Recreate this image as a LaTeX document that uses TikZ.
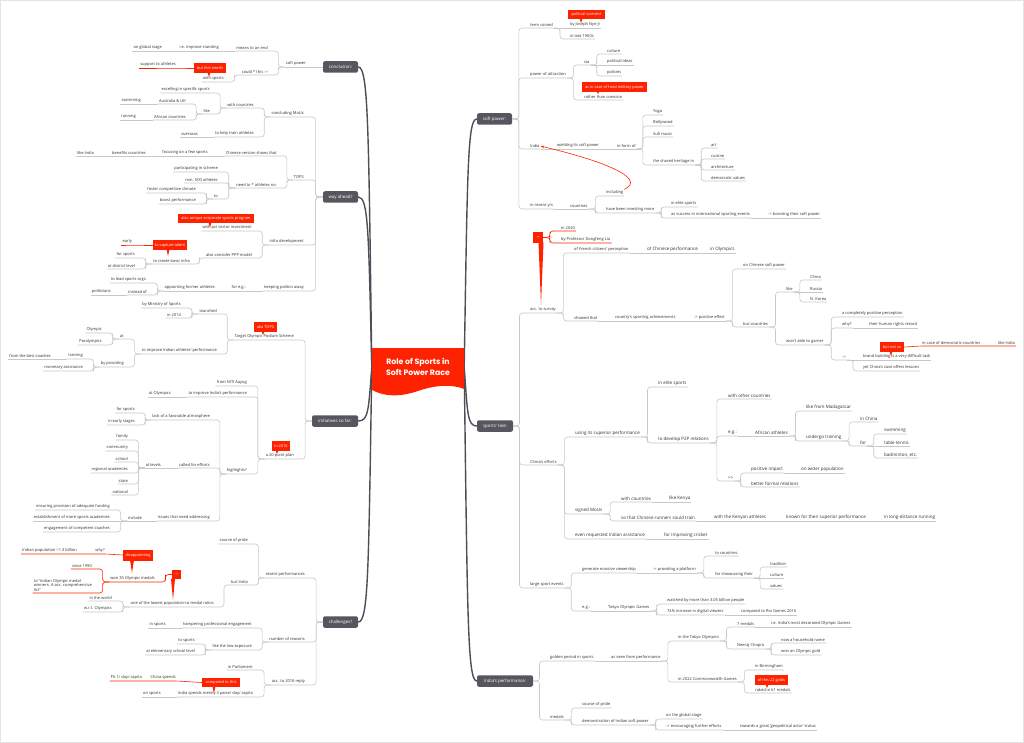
\documentclass[tikz,border=0pt]{standalone}
\usepackage{fontspec}
\setmainfont{Open Sans}
\newfontfamily\titlefont{Poppins}
\newfontfamily\rupfont{Noto Sans}
\usetikzlibrary{calc,arrows.meta}
\definecolor{cred}{HTML}{FF2200}
\definecolor{cbox}{HTML}{56565E}
\definecolor{cline}{HTML}{C8C8C8}
\definecolor{ctxt}{HTML}{303030}
\definecolor{ctrunk}{HTML}{4E4E56}
\definecolor{cframe}{HTML}{E4E4E4}
\pgfdeclarelayer{bg}
\pgfdeclarelayer{trk}
\pgfsetlayers{bg,trk,main}
\tikzset{
 tx/.style={font=\fontsize{4}{4.8}\selectfont, text=ctxt, inner xsep=1pt, inner ysep=1.1pt},
 big/.style={font=\fontsize{4.5}{5.4}\selectfont},
 conn/.style={draw=cline, line width=0.6pt, rounded corners=3pt},
 rconn/.style={draw=cred, line width=0.6pt, rounded corners=3pt},
 bbox/.style={fill=cbox, rounded corners=2pt, text=white, font=\fontsize{4.4}{5}\selectfont, minimum height=11.5pt, inner xsep=2pt, inner ysep=0pt},
 call/.style={fill=cred, text=white, font=\fontsize{3.9}{4.6}\selectfont, minimum height=9.5pt, inner xsep=1.5pt, inner ysep=0pt},
 trunk/.style={draw=ctrunk, line width=1.4pt, line cap=round},
}
\newcommand\mR[4][]{\node[tx,anchor=south west,#1] (#2) at (#3) {#4};}
\newcommand\mL[4][]{\node[tx,anchor=south east,#1] (#2) at (#3) {#4};}
\newcommand\kR[2]{\draw[conn] (#1.south east) -| ($(#1.south east)!.4!(#2.south west)$) |- (#2.south east);}
\newcommand\kL[2]{\draw[conn] (#1.south west) -| ($(#1.south west)!.4!(#2.south east)$) |- (#2.south west);}
\newcommand\kBR[2]{\draw[conn] (#1.east) -| ($(#1.east)!.4!(#2.south west)$) |- (#2.south east);}
\newcommand\kBL[2]{\draw[conn] (#1.west) -| ($(#1.west)!.4!(#2.south east)$) |- (#2.south west);}
\newcommand\kH[2]{\draw[conn] (#1.south east) -- (#2.south east);}
\newcommand\kHL[2]{\draw[conn] (#1.south west) -- (#2.south west);}
\newcommand\rBR[2]{\draw[rconn] (#1.east) -| ($(#1.east)!.4!(#2.south west)$) |- (#2.south east);}
\newcommand\rBL[2]{\draw[rconn] (#1.west) -| ($(#1.west)!.4!(#2.south east)$) |- (#2.south west);}
\newcommand\rKL[2]{\draw[rconn] (#1.south west) -| ($(#1.south west)!.4!(#2.south east)$) |- (#2.south west);}
\newcommand\ptr[4]{\coordinate (#1t) at (#2,#3);\fill[cred] ($(#1t |- #1.south)+(-#4,-0.8)$) -- ($(#1t |- #1.south)+(#4,-0.8)$) -- (#1t) -- cycle;}
\newcommand\trL[2]{\draw[trunk] (title.west) .. controls (368.5,{#2+0.2*(367-#2)}) and (368.5,#2) .. (#1.east);}
\newcommand\trR[2]{\draw[trunk] (title.east) .. controls (467.5,{#2+0.2*(367-#2)}) and (467.5,#2) .. (#1.west);}
\begin{document}
\begin{tikzpicture}[x=1pt,y=-1pt]
\useasboundingbox (0,0) rectangle (1024,743);
\begin{pgfonlayer}{bg}
\fill[white] (0,0) rectangle (1024,743);
\end{pgfonlayer}
\draw[cframe,line width=1.2pt] (0.6,0.6) rectangle (1023.4,742.4);

% ---------- title ----------
\node[minimum width=92pt,minimum height=40pt,inner sep=0pt,text=white,font=\titlefont\bfseries\fontsize{7.8}{10.2}\selectfont,align=center] (title) at (418,367) {Role of Sports in\\Soft Power Race};

% ---------- main branch boxes ----------
\node[bbox,minimum width=35pt] (sp) at (494.5,119) {soft power:};
\node[bbox,minimum width=36pt] (sr) at (495,426) {sports' role:};
\node[bbox,minimum width=56pt] (ip) at (505,681) {India's performance:};
\node[bbox,minimum width=35pt] (cc) at (340.5,67) {conclusion:};
\node[bbox,minimum width=35pt] (wa) at (340.5,197) {way ahead?};
\node[bbox,minimum width=46pt] (ini) at (335,421) {initiatives so far:};
\node[bbox,minimum width=35pt] (ch) at (340.5,622) {challenges?};

\begin{pgfonlayer}{trk}
\trL{cc}{67}\trL{wa}{197}\trL{ini}{421}\trL{ch}{622}
\trR{sp}{119}\trR{sr}{426}\trR{ip}{681}
\fill[cred] (372,348) -- (464,348) -- (464,389) .. controls (452,384) and (435,385) .. (418,391) .. controls (400,397) and (385,397) .. (372,390) -- cycle;
\end{pgfonlayer}

% ---------- soft power ----------
\mR{sp1}{529,28}{term coined}
\mR{sp2}{529,78}{power of attraction}
\mR{sp3}{529,149}{India}
\mR{sp4}{529,209}{in recent yrs}
\mR{sp1a}{569,28}{by Joseph Nye Jr}
\mR{sp1b}{569,39}{in late 1960s}
\mR{via}{583,65}{via}
\mR{rtc}{583,100}{rather than coercion}
\mR{cul}{606,54}{culture}
\mR{poi}{606,65}{political ideas}
\mR{pol}{606,76}{policies}
\mR{wsp}{556,149}{wielding its soft power}
\mR{ifo}{616,149}{in form of}
\mR{yoga}{652,115}{Yoga}
\mR{bol}{652,126}{Bollywood}
\mR{suf}{652,137}{Sufi music}
\mR{her}{652,165}{the shared heritage in}
\mR{art}{710,148}{art}
\mR{cui}{710,159}{cuisine}
\mR{arc}{710,170}{architecture}
\mR{dem1}{710,181}{democratic values}
\mR{cou1}{569,209}{countries}
\mR{inc}{605,196}{including}
\mR{hbim}{605,213}{have been investing more}
\mR{ies1}{670,207}{in elite sports}
\mR{suc}{670,218}{as success in international sporting events}
\mR{bst}{767,218}{-> boosting their soft power}
\node[call,minimum width=37pt,minimum height=9pt] (ps) at (586.5,14.5) {political scientist};
\ptr{ps}{581}{23}{1.5}
\node[call,minimum width=65pt,minimum height=10pt] (hm) at (614.5,87) {as in case of hard military power};
\ptr{hm}{598}{94}{1.5}

% ---------- sports' role ----------
\mR{sr1}{529,313}{acc. to survey}
\mR{sr2}{529,465}{China's efforts}
\mR{sr3}{529,588}{large sport events}
\mR{fr}{573,253}{of French citizens' perception}
\mR{st}{573,321}{showed that}
\mR[big]{chp}{646,253}{of Chinese performance}
\mR[big]{inol}{709,253}{in Olympics}
\mR{csa}{614,321}{country's sporting achievements}
\mR{pe}{693,321}{-> positive effect}
\mR{ocs}{742,269}{on Chinese soft power}
\mR{bc}{742,327}{but countries}
\mR{lk2}{785,292}{like}
\mR{wag}{785,345}{won't able to garner}
\mR{chn}{809,280}{China}
\mR{rus}{809,292}{Russia}
\mR{nk}{809,302}{N. Korea}
\mR{acpp}{841,317}{a completely positive perception}
\mR{why2}{841,328}{why?}
\mR{hrr}{868,328}{their human rights record}
\mR{arr1}{841,360}{->}
\mR{bb}{862,360}{brand building is a very difficult task}
\mR{yc}{862,371}{yet China's case offers lessons}
\node[call,minimum width=24pt,minimum height=10pt] (bns) at (892,347) {but not so};
\ptr{bns}{891}{356}{1.5}
\mR{icdc}{921,346}{in case of democratic countries}
\mR{lind}{997,346}{like India}
\node[call,minimum width=10pt,minimum height=11pt] (cs) at (538,237.5) {->};
\ptr{cs}{541}{305}{2.5}
\mR{y20}{560,231}{in 2020}
\mR{prof}{560,243}{by Professor Dongfeng Liu}

\mR[big]{usp}{574,437}{using its superior performance}
\mR[big]{mou}{574,514}{signed MoUs}
\mR[big]{eri}{574,539}{even requested Indian assistance}
\mR[big]{fic}{663,539}{for improving cricket}
\mR[big]{ies2}{657,387}{in elite sports}
\mR[big]{p2p}{657,443}{to develop P2P relations}
\mR[big]{woc}{727,399}{with other countries}
\mR[big]{eg1}{727,436}{e.g.:}
\mR[big]{imp}{727,481}{=>}
\mR[big]{aa}{754,436}{African athletes}
\mR[big]{lfm}{805,411}{like from Madagascar}
\mR[big]{ut}{805,441}{undergo training}
\mR[big]{inch}{859,422}{in China}
\mR[big]{forn}{859,446}{for}
\mR[big]{swm2}{883,434}{swimming}
\mR[big]{tt}{883,446}{table tennis}
\mR[big]{bad}{883,458}{badminton, etc.}
\mR[big]{pi}{750,473}{positive impact}
\mR[big]{owp}{800,473}{on wider population}
\mR[big]{bfr}{750,487}{better formal relations}
\mR[big]{wc2}{620,502}{with countries}
\mR[big]{lk3}{668,502}{like Kenya}
\mR[big]{sot}{620,521}{so that Chinese runners could train}
\mR[big]{wka}{713,521}{with the Kenyan athletes}
\mR[big]{kf}{785,521}{known for their superior performance}
\mR[big]{ldr}{883,521}{in long-distance running}

\mR{gmv}{581,573}{generate massive viewership}
\mR{eg2}{581,611}{e.g.:}
\mR{ppl}{652,573}{-> providing a platform}
\mR{tcn}{714,556}{to countries}
\mR{fst}{714,578}{for showcasing their}
\mR{trad}{769,567}{tradition}
\mR{cult2}{769,578}{culture}
\mR{val}{769,589}{values}
\mR{tog}{607,611}{Tokyo Olympic Games}
\mR{wat}{666,604}{watched by more than 3.05 billion people}
\mR{i74}{666,615}{74\% increase in digital viewers}
\mR{rio}{740,615}{compared to Rio Games 2016}

% ---------- India's performance ----------
\mR{gp}{549,661}{golden period in sports}
\mR{med}{549,720}{medals}
\mR{asp}{610,661}{as seen from performance}
\mR{tok}{677,641}{in the Tokyo Olympics}
\mR{cwg}{677,682}{in 2022 Commonwealth Games}
\mR{m7}{736,627}{7 medals}
\mR{dec}{770,627}{i.e. India's most decorated Olympic Games}
\mR{nc}{736,649}{Neeraj Chopra}
\mR{hh}{780,643}{now a household name}
\mR{gold}{780,655}{won an Olympic gold}
\mR{bir}{754,670}{in Birmingham}
\mR{rak}{754,693}{raked in 61 medals}
\node[call,minimum width=33pt,minimum height=10pt] (g22) at (771.5,680) {of this 22 golds};
\ptr{g22}{767}{688}{1.5}
\mR{sop}{581,708}{source of pride}
\mR{dsp}{581,725}{demonstration of Indian soft power}
\mR{gs}{665,719}{on the global stage}
\mR{enc}{665,730}{-> encouraging further efforts}
\mR{geo}{739,730}{towards a great `geopolitical actor' status}

% ---------- conclusion ----------
\mL{cc1}{307,67}{soft power}
\mL{mte}{269,51}{means to an end}
\mL{cou}{269,75}{could * this ->}
\mL{ims}{220,51}{i.e. improve standing}
\mL{ogs}{163,51}{on global stage}
\mL{ws}{225,82}{with sports}
\node[call,minimum width=32pt,minimum height=10pt] (bn) at (210,68) {but this needs};
\ptr{bn}{209}{77}{1.5}
\mL{sta}{177,68}{support to athletes}

% ---------- way ahead ----------
\mL{cm}{305,117}{concluding MoUs}
\mL{tops}{305,180}{TOPS}
\mL{inf}{305,245}{infra development}
\mL{kpa}{305,291}{keeping politics away}
\mL{wc1}{255,108}{with countries}
\mL{tht}{255,137}{to help train athletes}
\mL{ovs}{199,137}{overseas}
\mL{eis}{211,93}{excelling in specific sports}
\mL{lk1}{211,114}{like}
\mL{auk}{187,104}{Australia \& UK}
\mL{swm}{142,104}{swimming}
\mL{afc}{187,120}{African countries}
\mL{run}{137,120}{running}
\mL{cvs}{278,156}{Chinese version shows that}
\mL{fafs}{209,156}{focusing on a few sports}
\mL{bcn}{147,156}{benefits countries}
\mL{lind2}{95,156}{like India}
\mL{need}{278,188}{need to * athletes no.}
\mL{pis}{219,172}{participating in scheme}
\mL{m500}{219,183}{min. 500 athletes}
\mL{to1}{219,199}{to}
\mL{fcc}{197,193}{foster competitive climate}
\mL{boo}{197,204}{boost performance}
\mL{pvt}{253,231}{with pvt sector investment}
\mL{ppp}{253,258}{also consider PPP model}
\node[call,minimum width=76pt,minimum height=9.5pt] (auc) at (216,218.5) {also unique corporate sports program};
\ptr{auc}{210}{227}{1.5}
\mL{tcbi}{191,264}{to create basic infra}
\mL{fsp}{136,258}{for sports}
\mL{adl}{136,269}{at district level}
\node[call,minimum width=32pt,minimum height=10pt] (ct) at (170,245) {to capture talent};
\ptr{ct}{168}{256}{1.5}
\mL{early}{133,245}{early}
\mL{feg}{247,291}{for e.g.:}
\mL{afa}{216,291}{appointing former athletes}
\mL{tlso}{148,283}{to lead sports orgs.}
\mL{io}{148,295}{instead of}
\mL{pol2}{112,295}{politicians}

% ---------- initiatives so far ----------
\mL{tops2}{295,340}{Target Olympic Podium Scheme}
\mL{p20}{295,459}{a 20-point plan}
\node[call,minimum width=23pt,minimum height=10pt] (aka) at (265.5,327) {aka TOPS};
\ptr{aka}{263}{335}{1.5}
\node[call,minimum width=18pt,minimum height=10pt] (i16) at (281,446) {in 2016};
\ptr{i16}{277}{454}{1.5}
\mL{lau}{218,314}{launched}
\mL{tiiap}{218,354}{to improve Indian athletes' performance}
\mL{bms}{182,308}{by Ministry of Sports}
\mL{i14}{182,318}{in 2014}
\mL{at1}{125,339}{at}
\mL{bpr}{125,367}{by providing}
\mL{oly}{103,333}{Olympic}
\mL{para}{103,345}{Paralympics}
\mL{trn}{84,359}{training}
\mL{fbc}{52,359}{from the best coaches}
\mL{mon}{84,371}{monetary assistance}
\mL{niti}{248,386}{from NITI Aayog}
\mL{tiip}{248,397}{to improve India's performance}
\mL{ato}{172,397}{at Olympics}
\mL{hl}{248,474}{highlights?}
\mL{lack}{211,420}{lack of a favorable atmosphere}
\mL{cfe}{211,468}{called for efforts}
\mL{iss}{211,521}{issues that need addressing}
\mL{fs2}{136,413}{for sports}
\mL{ies3}{136,425}{in early stages}
\mL{atl}{162,468}{at levels}
\mL{fam}{129,440}{family}
\mL{com}{129,451}{community}
\mL{sch}{129,462}{school}
\mL{reg}{129,473}{regional academies}
\mL{sta2}{129,484}{state}
\mL{nat}{129,495}{national}
\mL{incl}{143,521}{include}
\mL{epf}{111,510}{ensuring provision of adequate funding}
\mL{emsa}{111,521}{establishment of more sports academies}
\mL{ecc}{111,532}{engagement of competent coaches}

% ---------- challenges ----------
\mL{rp}{306,578}{recent performances}
\mL{nr}{306,642}{number of reasons}
\mL{a18}{306,685}{acc. to 2018 reply}
\mL{sop2}{249,544}{source of pride}
\mL{bi}{249,585}{but India}
\mL{olp}{215,607}{one of the lowest population-to-medal ratios}
\mL{itw}{113,601}{in the world}
\mL{wrt}{113,612}{w.r.t. Olympics}
\node[call,minimum width=9pt,minimum height=9.5pt] (arr2) at (176.5,574.5) {->};
\ptr{arr2}{173}{600}{2}
\mL{w35}{156,582}{won 35 Olympic medals}
\mL{s90}{93,569}{since 1990}
\mL[align=left]{ind}{93,593}{to ``Indian Olympic medal\\winners: A acc. comprehensive\\list''}
\node[call,minimum width=30pt,minimum height=11pt] (dis) at (138,555) {disappointing};
\ptr{dis}{132}{573}{2}
\mL{why1}{106,554}{why?}
\mL{ipop}{78,554}{Indian population >1.3 billion}
\mL{hpe}{253,628}{hampering professional engagement}
\mL{isp}{167,628}{in sports}
\mL{lle}{253,650}{like the low exposure}
\mL{tsp}{196,644}{to sports}
\mL{aesl}{196,655}{at elementary school level}
\mL{ipar}{254,670}{in Parliament}
\mL{ism}{254,697}{India spends merely 3 paise/ day/ capita}
\mL{osp}{162,697}{on sports}
\node[call,minimum width=38pt,minimum height=9.5pt] (cmp) at (221,682.5) {compared to this};
\ptr{cmp}{214}{693}{1.5}
\mL{csp}{177,681}{China spends}
\mL{r61}{143,681}{{\rupfont ₹}6.1/ day/ capita}

% ---------- connectors right ----------
\kBR{sp}{sp1}\kBR{sp}{sp2}\kBR{sp}{sp3}\kBR{sp}{sp4}
\kH{sp1}{sp1a}\kR{sp1}{sp1b}
\kR{sp2}{via}\kR{sp2}{rtc}
\kR{via}{cul}\kH{via}{poi}\kR{via}{pol}
\kH{sp3}{wsp}\kH{wsp}{ifo}
\kR{ifo}{yoga}\kR{ifo}{bol}\kR{ifo}{suf}\kR{ifo}{her}
\kR{her}{art}\kR{her}{cui}\kR{her}{arc}\kR{her}{dem1}
\kH{sp4}{cou1}\kR{cou1}{inc}\kR{cou1}{hbim}
\kR{hbim}{ies1}\kR{hbim}{suc}\kH{suc}{bst}
\draw[cred,line width=0.6pt,-{Stealth[length=3.5pt,width=2.6pt]}] (inc.north east) .. controls (648,178) and (600,160) .. (sp3.east);

\kBR{sr}{sr1}\kBR{sr}{sr2}\kBR{sr}{sr3}
\kR{sr1}{fr}\kR{sr1}{st}
\kH{fr}{chp}\kH{chp}{inol}
\kH{st}{csa}\kH{csa}{pe}
\kR{pe}{ocs}\kR{pe}{bc}
\kR{bc}{lk2}\kR{bc}{wag}
\kR{lk2}{chn}\kH{lk2}{rus}\kR{lk2}{nk}
\kR{wag}{acpp}\kR{wag}{why2}\kR{wag}{arr1}
\kH{why2}{hrr}
\kH{arr1}{bb}\kR{arr1}{yc}
\draw[rconn] (bns.east) -- (icdc.south west) -- (icdc.south east) -- (lind.south east);
\rBR{cs}{y20}\rBR{cs}{prof}
\kR{sr2}{usp}\kR{sr2}{mou}\kR{sr2}{eri}\kH{eri}{fic}
\kR{usp}{ies2}\kR{usp}{p2p}
\kR{p2p}{woc}\kR{p2p}{eg1}\kR{p2p}{imp}
\kH{eg1}{aa}
\kR{aa}{lfm}\kR{aa}{ut}
\kR{ut}{inch}\kR{ut}{forn}
\kR{forn}{swm2}\kH{forn}{tt}\kR{forn}{bad}
\kR{imp}{pi}\kR{imp}{bfr}\kH{pi}{owp}
\kR{mou}{wc2}\kR{mou}{sot}\kH{wc2}{lk3}\kH{sot}{wka}\kH{wka}{kf}\kH{kf}{ldr}
\kR{sr3}{gmv}\kR{sr3}{eg2}\kH{gmv}{ppl}
\kR{ppl}{tcn}\kR{ppl}{fst}
\kR{fst}{trad}\kH{fst}{cult2}\kR{fst}{val}
\kH{eg2}{tog}\kR{tog}{wat}\kR{tog}{i74}\kH{i74}{rio}

\kBR{ip}{gp}\kBR{ip}{med}
\kH{gp}{asp}\kR{asp}{tok}\kR{asp}{cwg}
\kR{tok}{m7}\kR{tok}{nc}\kH{m7}{dec}
\kR{nc}{hh}\kR{nc}{gold}
\kR{cwg}{bir}\kR{cwg}{rak}
\kR{med}{sop}\kR{med}{dsp}
\kR{dsp}{gs}\kR{dsp}{enc}\kH{enc}{geo}

% ---------- connectors left ----------
\draw[conn] (cc.west) -- (cc1.south west);
\kL{cc1}{mte}\kL{cc1}{cou}
\kHL{mte}{ims}\kHL{ims}{ogs}
\kL{cou}{ws}
\draw[rconn] (bn.west) -- (sta.south east) -- (sta.south west);
\kBL{wa}{cm}\kBL{wa}{tops}\kBL{wa}{inf}\kBL{wa}{kpa}
\kL{cm}{wc1}\kL{cm}{tht}\kHL{tht}{ovs}
\kL{wc1}{eis}\kL{wc1}{lk1}
\kL{lk1}{auk}\kL{lk1}{afc}\kHL{auk}{swm}\kHL{afc}{run}
\kL{tops}{cvs}\kL{tops}{need}\kHL{cvs}{fafs}\kHL{fafs}{bcn}\kHL{bcn}{lind2}
\kL{need}{pis}\kL{need}{m500}\kL{need}{to1}
\kL{to1}{fcc}\kL{to1}{boo}
\kL{inf}{pvt}\kL{inf}{ppp}
\kL{ppp}{tcbi}
\kL{tcbi}{fsp}\kL{tcbi}{adl}
\draw[rconn] (ct.west) -- (early.south east) -- (early.south west);
\kHL{kpa}{feg}\kHL{feg}{afa}
\kL{afa}{tlso}\kL{afa}{io}\kHL{io}{pol2}
\kBL{ini}{tops2}\kBL{ini}{p20}
\kL{tops2}{lau}\kL{tops2}{tiiap}
\kL{lau}{bms}\kL{lau}{i14}
\kL{tiiap}{at1}\kL{tiiap}{bpr}
\kL{at1}{oly}\kL{at1}{para}
\kL{bpr}{trn}\kL{bpr}{mon}\kHL{trn}{fbc}
\kL{p20}{niti}\kL{p20}{tiip}\kL{p20}{hl}\kHL{tiip}{ato}
\kL{hl}{lack}\kL{hl}{cfe}\kL{hl}{iss}
\kL{lack}{fs2}\kL{lack}{ies3}
\kHL{cfe}{atl}
\kL{atl}{fam}\kL{atl}{com}\kL{atl}{sch}\kL{atl}{reg}\kL{atl}{sta2}\kL{atl}{nat}
\kHL{iss}{incl}
\kL{incl}{epf}\kHL{incl}{emsa}\kL{incl}{ecc}
\kBL{ch}{rp}\kBL{ch}{nr}\kBL{ch}{a18}
\kL{rp}{sop2}\kL{rp}{bi}
\kL{bi}{olp}
\kL{olp}{itw}\kL{olp}{wrt}
\rBL{arr2}{w35}
\rKL{w35}{s90}\rKL{w35}{ind}
\draw[rconn] (dis.west) -- (why1.south east) -- (why1.south west) -- (ipop.south west);
\kL{nr}{hpe}\kL{nr}{lle}\kHL{hpe}{isp}
\kL{lle}{tsp}\kL{lle}{aesl}
\kL{a18}{ipar}\kL{a18}{ism}\kHL{ism}{osp}
\draw[rconn] (cmp.west) -- (csp.south east) -- (csp.south west) -- (r61.south west);
\end{tikzpicture}
\end{document}
